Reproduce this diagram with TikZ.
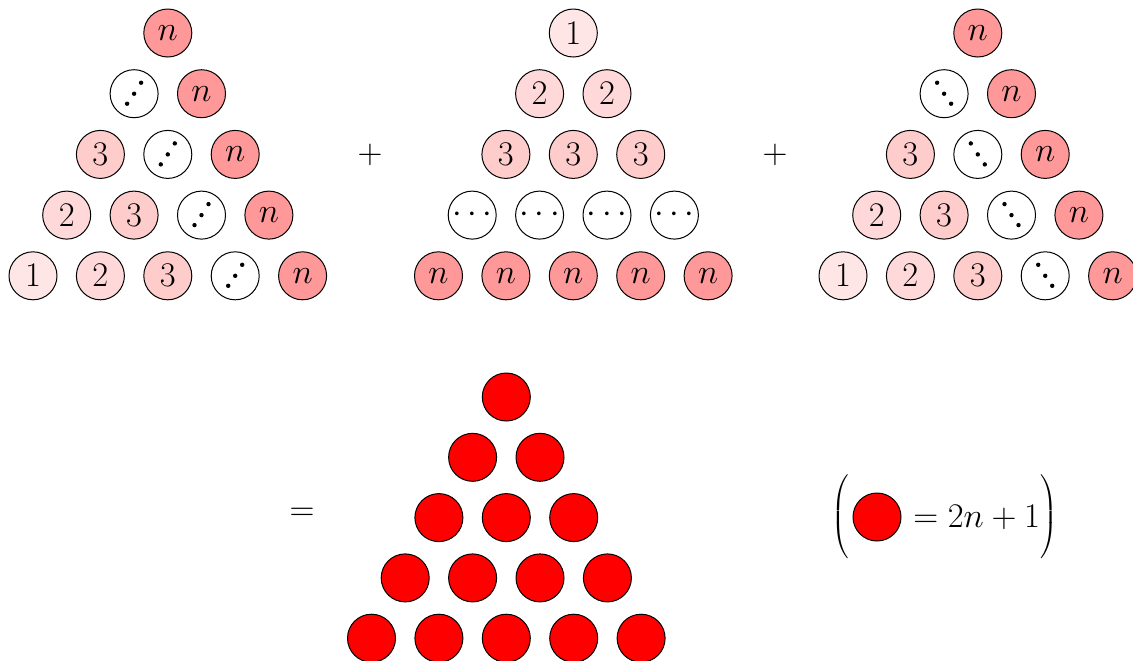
\documentclass[tikz,border=0pt]{standalone}
\definecolor{c1}{RGB}{255,230,230}
\definecolor{c2}{RGB}{255,217,217}
\definecolor{c3}{RGB}{255,204,204}
\definecolor{cn}{RGB}{255,153,153}
\definecolor{cr}{RGB}{255,0,0}
\begin{document}
\begin{tikzpicture}[x=0.5pt,y=-0.5pt,
  ball/.style={circle,draw,line width=0.5pt,minimum size=24pt,inner sep=0pt,font=\fontsize{16}{19}\selectfont},
  redball/.style={ball,fill=cr},
  updots/.style={ball,fill=white,path picture={
     \fill[black] (path picture bounding box.center) ++(-7,10) circle (2.2);
     \fill[black] (path picture bounding box.center) circle (2.2);
     \fill[black] (path picture bounding box.center) ++(7,-11) circle (2.2);}},
  downdots/.style={ball,fill=white,path picture={
     \fill[black] (path picture bounding box.center) ++(-7,-11) circle (2.2);
     \fill[black] (path picture bounding box.center) circle (2.2);
     \fill[black] (path picture bounding box.center) ++(7,10) circle (2.2);}},
  sym/.style={inner sep=0pt,font=\fontsize{16}{19}\selectfont}]
\clip (0,0) rectangle (1133,660);
\useasboundingbox (0,0) rectangle (1133,660);
\foreach \r in {0,...,4}{
  \foreach \k in {0,...,\r}{
    \pgfmathsetmacro{\xx}{33+67.4*(4-\r)/2+67.4*\k}
    \pgfmathsetmacro{\yy}{33+60.7*\r}
    \pgfmathtruncatemacro{\num}{\k+5-\r}
    \pgfmathtruncatemacro{\prev}{\r-1}
    % left and right triangles
    \ifnum\k=\r
      \node[ball,fill=cn] (L-\r-\k) at (\xx,\yy) {$n$};
      \node[ball,fill=cn] (R-\r-\k) at (\xx+810,\yy) {$n$};
    \else\ifnum\k=\prev
      \node[updots] (L-\r-\k) at (\xx,\yy) {};
      \node[downdots] (R-\r-\k) at (\xx+810,\yy) {};
    \else
      \node[ball,fill=c\num] (L-\r-\k) at (\xx,\yy) {$\num$};
      \node[ball,fill=c\num] (R-\r-\k) at (\xx+810,\yy) {$\num$};
    \fi\fi
    % middle triangle
    \pgfmathtruncatemacro{\mnum}{\r+1}
    \ifnum\r<3
      \node[ball,fill=c\mnum] (M-\r-\k) at (\xx+405.5,\yy) {$\mnum$};
    \else\ifnum\r=3
      \node[ball,fill=white] (M-\r-\k) at (\xx+405.5,\yy) {$\cdots$};
    \else
      \node[ball,fill=cn] (M-\r-\k) at (\xx+405.5,\yy) {$n$};
    \fi\fi
    % bottom triangle
    \pgfmathsetmacro{\by}{397+60.3*\r}
    \node[redball] (B-\r-\k) at (\xx+338.5,\by) {};
  }
}
\node[sym] (plus1) at (370,155) {$+$};
\node[sym] (plus2) at (775,155) {$+$};
\node[sym] (eq) at (302,514) {$=$};
% legend
\node[sym] (lp) at (841,517) {$\left(\vcenter{\hbox{\rule{0pt}{40pt}}}\right.$};
\node[redball] (leg) at (877,517) {};
\node[sym,anchor=west] (val) at (913,517) {$=2n+1$};
\node[sym] (rp) at (1048,517) {$\left.\vcenter{\hbox{\rule{0pt}{40pt}}}\right)$};
\end{tikzpicture}
\end{document}
